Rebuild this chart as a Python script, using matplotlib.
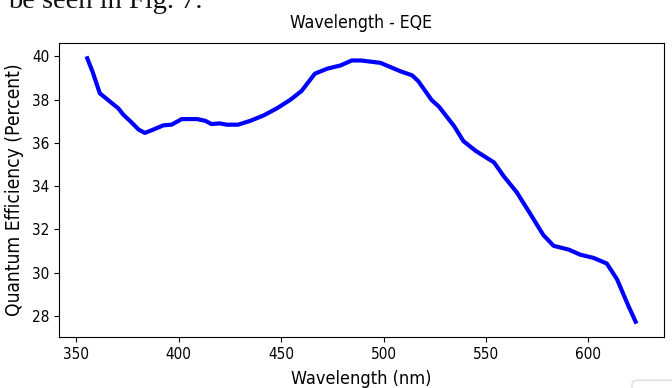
"""Wavelength vs EQE curve."""
import matplotlib
matplotlib.use("Agg")
import matplotlib.pyplot as plt
from matplotlib.patches import FancyBboxPatch

plt.rcParams.update({"font.family": "DejaVu Sans", "font.stretch": "condensed"})

wavelength = [355, 358, 361.5, 364, 368, 370.5, 373, 376.5, 380.5, 383.5,
              387.5, 392.5, 396.5, 401.5, 409, 413, 416, 420, 423.5, 429,
              435, 441.5, 448, 454.5, 460, 466.5, 472.5, 479, 484.5, 489,
              498.5, 502.5, 508, 514, 517, 523.5, 527, 534.5, 539, 545,
              554, 558.5, 565, 571.5, 578, 583, 590.5, 596, 602.5, 609,
              614, 619.5, 623.5]
qe = [40.0, 39.28, 38.29, 38.1, 37.79, 37.6, 37.3, 36.99, 36.61, 36.46,
      36.61, 36.81, 36.84, 37.1, 37.1, 37.02, 36.87, 36.9, 36.84, 36.84,
      37.02, 37.27, 37.6, 37.99, 38.4, 39.2, 39.43, 39.58, 39.81, 39.81,
      39.7, 39.54, 39.32, 39.12, 38.85, 37.98, 37.68, 36.77, 36.08, 35.63,
      35.09, 34.48, 33.72, 32.74, 31.74, 31.24, 31.06, 30.83, 30.68, 30.42,
      29.69, 28.47, 27.64]

fig = plt.figure(figsize=(6.72, 3.88), dpi=100)
ax = fig.add_axes([59 / 672, 51 / 388, 605 / 672, 294 / 388])
ax.plot(wavelength, qe, color="blue", lw=3, solid_capstyle="butt")
ax.set_title("Wavelength - EQE", fontsize=12.7, pad=11)
ax.set_xlabel("Wavelength (nm)", fontsize=13, labelpad=6)
ax.set_ylabel("Quantum Efficiency (Percent)", fontsize=13.8, labelpad=6)
ax.tick_params(labelsize=11)
ax.set_xticks([350, 400, 450, 500, 550, 600])
ax.set_yticks([28, 30, 32, 34, 36, 38, 40])

# bits of the surrounding page in the screenshot
fig.text(8 / 672, 380 / 388, "be seen in Fig. 7.", family="Liberation Serif",
         stretch="normal", fontsize=20.5, va="baseline", color="#111111")
fig.patches.append(FancyBboxPatch((632 / 672, -0.05), 0.1, 0.07,
                                  boxstyle="round,pad=0,rounding_size=0.01",
                                  transform=fig.transFigure, fc="white",
                                  ec="#dddddd", lw=1))

fig.savefig("out.png", dpi=100)
